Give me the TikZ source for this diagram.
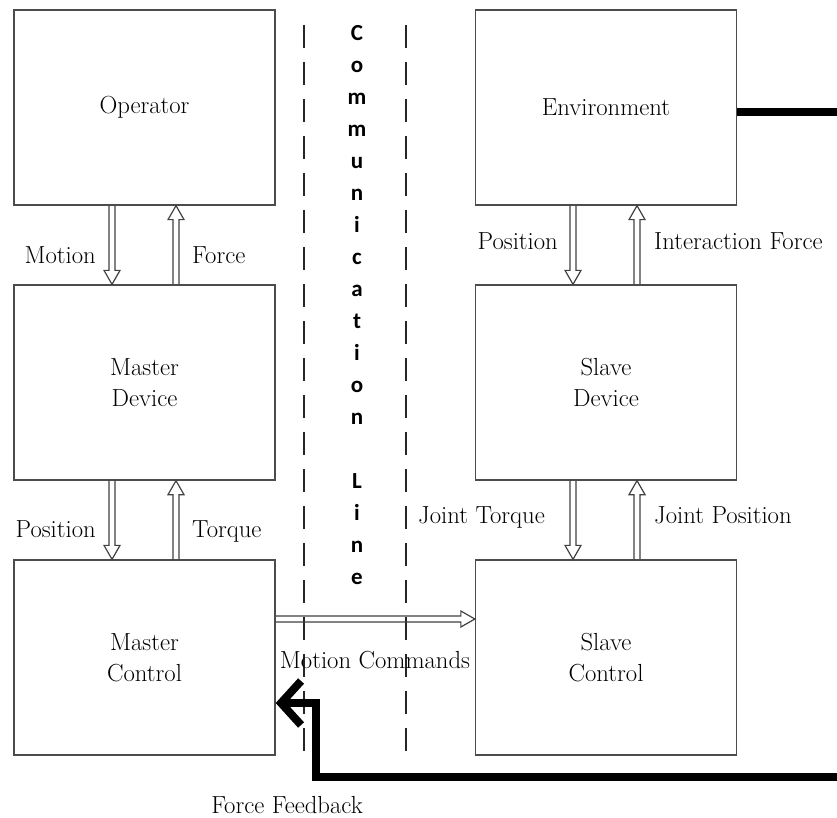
\documentclass[tikz,border=0pt]{standalone}
\usepackage{fontspec}
\newfontfamily\commfont{Carlito}
\usetikzlibrary{calc,arrows.meta}

\tikzset{
  block/.style={draw=black!70, line width=1.3pt, minimum width=261pt, minimum height=195pt,
    align=center, font=\fontsize{24.7}{31}\selectfont, text=black},
  lbl/.style={font=\fontsize{24.7}{29}\selectfont, text=black, inner sep=0pt},
  commletter/.style={font=\commfont\bfseries\fontsize{23}{26}\selectfont, anchor=base, inner sep=0pt},
  channel/.style={draw=black!85, line width=1.5pt, dash pattern=on 23pt off 14pt},
  heavy/.style={draw=black, line width=8pt, line join=miter},
  % hollow double-line arrow drawn as an outline
  hollow/.style={draw=black!75, line width=1.2pt, line join=miter,
    to path={
      ($(\tikztostart)!3pt!90:(\tikztotarget)$)
      -- ($(\tikztotarget)!14pt!(\tikztostart)!3pt!90:(\tikztotarget)$)
      -- ($(\tikztotarget)!14pt!(\tikztostart)!8pt!90:(\tikztotarget)$)
      -- (\tikztotarget)
      -- ($(\tikztotarget)!14pt!(\tikztostart)!8pt!-90:(\tikztotarget)$)
      -- ($(\tikztotarget)!14pt!(\tikztostart)!3pt!-90:(\tikztotarget)$)
      -- ($(\tikztostart)!3pt!-90:(\tikztotarget)$)
    }}
}

\begin{document}
\begin{tikzpicture}[x=1pt,y=-1pt]
\useasboundingbox (0,0) rectangle (837,818);

% blocks
\node[block] (op)  at (144.5,107.5) {Operator};
\node[block] (md)  at (144.5,382.5) {Master\\Device};
\node[block] (mc)  at (144.5,657.5) {Master\\Control};
\node[block] (env) at (606,107.5)   {Environment};
\node[block] (sd)  at (606,382.5)   {Slave\\Device};
\node[block] (sc)  at (606,657.5)   {Slave\\Control};

% communication channel
\coordinate (cla) at (304,25);
\coordinate (clb) at (304,752);
\coordinate (cra) at (406,25);
\coordinate (crb) at (406,752);
\draw[channel] (cla) -- (clb);
\draw[channel] (cra) -- (crb);
\foreach \ch [count=\i from 0] in {C,o,m,m,u,n,i,c,a,t,i,o,n}
  \node[commletter] (cw\i) at (357,40.5+32*\i) {\ch};
\foreach \ch [count=\i from 14] in {L,i,n,e}
  \node[commletter] (cv\i) at (357,40.5+32*\i) {\ch};

% arrow end points on block edges
\coordinate (a1s) at (op.south -| 112,0);
\coordinate (a1t) at (md.north -| 112,0);
\coordinate (a2s) at (md.north -| 176,0);
\coordinate (a2t) at (op.south -| 176,0);
\coordinate (a3s) at (md.south -| 112,0);
\coordinate (a3t) at (mc.north -| 112,0);
\coordinate (a4s) at (mc.north -| 176,0);
\coordinate (a4t) at (md.south -| 176,0);
\coordinate (b1s) at (env.south -| 573,0);
\coordinate (b1t) at (sd.north -| 573,0);
\coordinate (b2s) at (sd.north -| 637,0);
\coordinate (b2t) at (env.south -| 637,0);
\coordinate (b3s) at (sd.south -| 573,0);
\coordinate (b3t) at (sc.north -| 573,0);
\coordinate (b4s) at (sc.north -| 637,0);
\coordinate (b4t) at (sd.south -| 637,0);
\coordinate (mcs) at (mc.east |- 0,619);
\coordinate (mct) at (sc.west |- 0,619);

\draw[hollow] (a1s) to (a1t);
\draw[hollow] (a2s) to (a2t);
\draw[hollow] (a3s) to (a3t);
\draw[hollow] (a4s) to (a4t);
\draw[hollow] (b1s) to (b1t);
\draw[hollow] (b2s) to (b2t);
\draw[hollow] (b3s) to (b3t);
\draw[hollow] (b4s) to (b4t);
\draw[hollow] (mcs) to (mct);

% labels
\node[lbl, anchor=base east] (lmo) at (96,263)  {Motion};
\node[lbl, anchor=base west] (lfo) at (192,263) {Force};
\node[lbl, anchor=base east] (lpo) at (96,537)  {Position};
\node[lbl, anchor=base west] (lto) at (192,537) {Torque};
\node[lbl, anchor=base east] (lps) at (558,249) {Position};
\node[lbl, anchor=base west] (lif) at (654,249) {Interaction Force};
\node[lbl, anchor=base east] (ljt) at (545,523) {Joint Torque};
\node[lbl, anchor=base west] (ljp) at (654,523) {Joint Position};
\node[lbl, anchor=base] (lmc) at (375,668) {Motion Commands};
\node[lbl, anchor=base] (lff) at (287,813) {Force Feedback};

% force feedback path
\coordinate (e1) at (837,112);
\coordinate (f1) at (837,777);
\coordinate (f2) at (316,777);
\coordinate (f3) at (316,703);
\draw[heavy] (env.east |- e1) -- (e1);
\draw[heavy, -{Straight Barb[length=20pt,width=44pt]}] (f1) -- (f2) -- (f3) -- (mc.east |- f3);
\end{tikzpicture}
\end{document}
